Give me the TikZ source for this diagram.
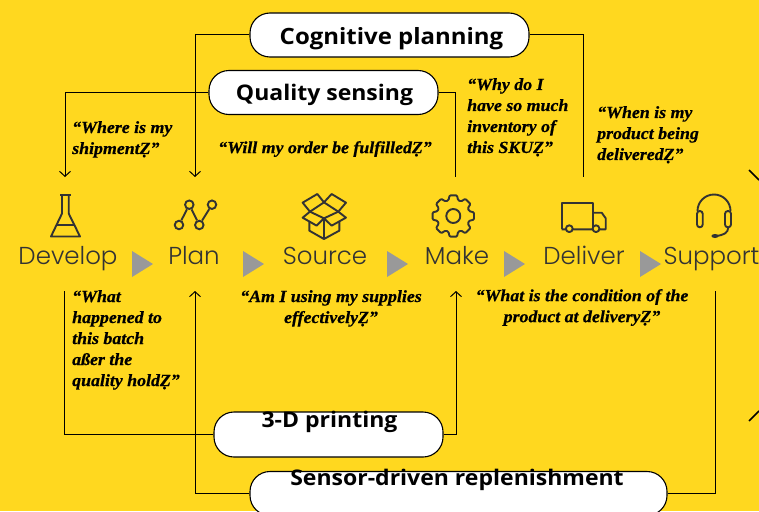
\documentclass[tikz,border=0pt]{standalone}
\usepackage{fontspec}
\usepackage{tikz}
\usetikzlibrary{arrows.meta}
\setmainfont{Liberation Serif}[BoldItalicFeatures={FakeStretch=1.05,FakeBold=0.6}]
\newfontfamily\pillfont{Open Sans}[BoldFont={* Bold},BoldFeatures={FakeStretch=1.07}]
\newfontfamily\stagefont[UprightFont={* Light}]{Poppins}
\definecolor{bgyellow}{HTML}{FFD81F}
\definecolor{icongray}{HTML}{333333}
\definecolor{trigray}{HTML}{999999}
\tikzset{
  pill/.style={draw=black,fill=white,line width=1.1pt,rounded corners=20pt,minimum height=44pt,inner sep=0pt,font=\pillfont\bfseries\fontsize{21.5}{24}\selectfont},
  quote/.style={inner sep=0pt,font=\bfseries\itshape\fontsize{17}{21}\selectfont},
  stage/.style={inner sep=0pt,anchor=base,text=icongray,font=\stagefont\fontsize{24.5}{26}\selectfont},
  wire/.style={draw=black,line width=1pt},
  icon/.style={draw=icongray,line width=1.9pt,line join=round},
  dot/.style={circle,draw=icongray,line width=1.9pt,minimum size=8.5pt,inner sep=0pt}
}
\def\tri#1{\fill[trigray] (#1,251) -- (#1+21,264) -- (#1,277) -- cycle}
\def\pilltext#1#2#3{\hspace*{#1}\raisebox{#2}[0pt][0pt]{#3}}
\begin{document}
\begin{tikzpicture}[x=1pt,y=-1pt,>={Straight Barb[length=5pt,width=11pt]}]
      \useasboundingbox (0,0) rectangle (759,511);
      \clip (0,0) rectangle (759,511);
      \fill[bgyellow] (0,0) rectangle (759,511);

      \node[pill,minimum width=279pt,font=\pillfont\bfseries\fontsize{22.4}{24}\selectfont] (cognitive) at (389.5,35) {\pilltext{4pt}{-9.3pt}{Cognitive planning}};
      \node[pill,minimum width=229pt] (quality) at (323.5,92.5) {\pilltext{2pt}{-7.5pt}{Quality sensing}};
      \node[pill,minimum width=229pt,minimum height=45pt] (printing) at (328.5,434.5) {\pilltext{2pt}{7.2pt}{3-D printing}};
      \node[pill,minimum width=417pt] (sensor) at (458.5,493.5) {\pilltext{-3pt}{8.5pt}{Sensor-driven replenishment}};

      \coordinate (developtop) at (65,177);
      \coordinate (plantop) at (195,177);
      \coordinate (maketop) at (455,177);
      \coordinate (delivertop) at (583,177);
      \coordinate (developlow) at (64,291);
      \coordinate (planlow) at (195,291);
      \coordinate (makelow) at (456,291);
      \coordinate (supportlow) at (715,291);

      \draw[wire,->] (cognitive.west) -| (plantop);
      \draw[wire] (cognitive.east) -| (delivertop);
      \draw[wire,->] (quality.west) -| (developtop);
      \draw[wire] (quality.east) -| (maketop);
      \draw[wire] (printing.west) -| (developlow);
      \draw[wire,->] (printing.east) -| (makelow);
      \draw[wire,->] (sensor.west) -| (planlow);
      \draw[wire] (sensor.east) -| (supportlow);

      \node[quote,anchor=north west,align=left] (where) at (72,121) {“Where is my\\shipmentẒ”};
      \node[quote,anchor=north] (will) at (325,141) {“Will my order be fulfilledẒ”};
      \node[quote,anchor=north west,align=left] (why) at (467,78) {“Why do I\\have so much\\inventory of\\this SKUẒ”};
      \node[quote,anchor=north west,align=left] (when) at (597,106) {“When is my\\product being\\deliveredẒ”};
      \node[quote,anchor=north west,align=left] (happened) at (72,290) {“What\\happened to\\this batch\\aßer the\\quality holdẒ”};
      \node[quote,anchor=north,align=center] (supplies) at (331,290) {“Am I using my supplies\\effectivelyẒ”};
      \node[quote,anchor=north,align=center] (condition) at (582,289) {“What is the condition of the\\product at deliveryẒ”};

      \node[stage] (develop) at (68,264) {Develop};
      \node[stage] (plan) at (194,264) {Plan};
      \node[stage] (source) at (325,264) {Source};
      \node[stage] (make) at (457,264) {Make};
      \node[stage] (deliver) at (584,264) {Deliver};
      \node[stage] (support) at (711.5,264) {Support};

      \tri{132}; \tri{243}; \tri{387}; \tri{504}; \tri{640};

      \draw[icon] (60,195) -- (71,195);
      \draw[icon] (62,195) -- (62,213.5) -- (51,236.5) -- (80,236.5) -- (68.7,213.5) -- (68.7,195);
      \draw[icon] (56.5,225) -- (75,225);

      \node[dot] (pa) at (179,225) {};
      \node[dot] (pb) at (189.3,204.7) {};
      \node[dot] (pc) at (199.3,225) {};
      \node[dot] (pd) at (212,204.7) {};
      \draw[icon] (pa) -- (pb) -- (pc) -- (pd);

      \begin{scope}[shift={(0,170)},x=0.3333pt,y=-0.3333pt]
        \draw[icon] (952,72) -- (908,98) -- (930,125) -- (972,97) -- cycle;
        \draw[icon] (995,72) -- (1038,98) -- (1015,125) -- (972,97) -- cycle;
        \draw[icon] (930,125) -- (908,143) -- (950,167) -- (972,145) -- (995,167) -- (1038,143) -- (1015,125) -- (972,145) -- cycle;
        \draw[icon] (928,155) -- (928,182) -- (972,207) -- (1018,182) -- (1018,155);
        \draw[icon] (972,145) -- (972,207);
      \end{scope}

      \begin{scope}[shift={(453.3,216)}]
        \draw[icon,rounded corners=1pt] (-17:16.5)
          \foreach \a in {0,45,...,315} { -- ({\a-17}:16.5) -- ({\a-10}:21) -- ({\a+10}:21) -- ({\a+17}:16.5) } -- cycle;
        \draw[icon] (0,0) circle (7);
      \end{scope}

      \draw[icon] (561.7,229.3) -- (561.7,202.7) -- (593.3,202.7) -- (593.3,229.3);
      \draw[icon] (593.3,212.7) -- (601.7,212.7) -- (605.7,218.3) -- (605.7,229.3) -- (561.7,229.3);
      \draw[icon,fill=bgyellow] (569.3,228.7) circle (3.4);
      \draw[icon,fill=bgyellow] (596,228.7) circle (3.4);

      \draw[icon] (697.5,211) arc (180:360:16.5);
      \draw[icon,rounded corners=2.8pt] (697,211) rectangle (702.7,227.3);
      \draw[icon,rounded corners=2.8pt] (725,211) rectangle (731,227.3);
      \draw[icon] (728.3,227.3) .. controls (728,233) and (724,235) .. (716,236);
      \fill[icongray] (715,236) ellipse (3.6 and 2);

      \draw[black,line width=1.6pt] (749,170) -- (759,180);
      \draw[black,line width=1.6pt] (749,421) -- (759,411);
    \end{tikzpicture}
\end{document}
